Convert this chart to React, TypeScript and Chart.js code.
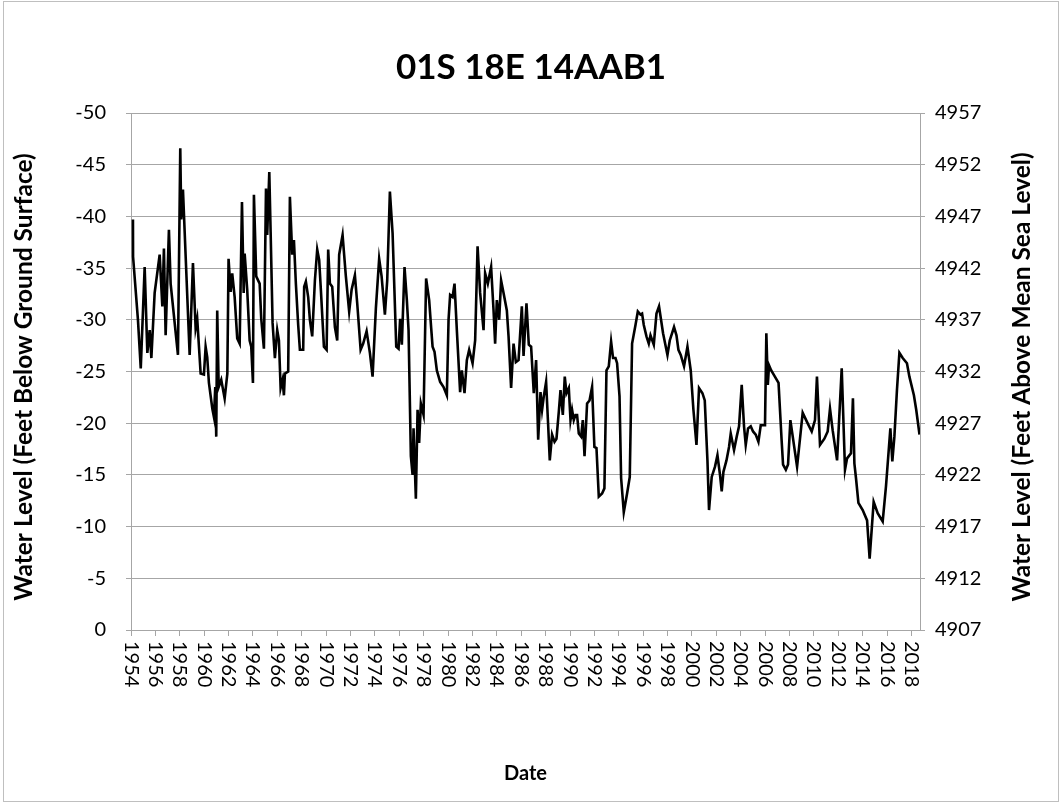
import React, { useEffect, useRef } from "react";
import { Chart, registerables } from "chart.js";

Chart.register(...registerables);

// Sample dates (decimal years)
const sampleDates = [
  1954.16, 1954.17, 1954.57, 1954.8, 1955.12, 1955.34, 1955.53, 1955.67, 1955.94, 1956.35,
  1956.57, 1956.7, 1956.84, 1957.11, 1957.25, 1957.85, 1958.04, 1958.12, 1958.26, 1958.81,
  1959.08, 1959.3, 1959.43, 1959.71, 1959.98, 1960.12, 1960.25, 1960.39, 1960.67, 1960.8,
  1960.91, 1960.99, 1961.07, 1961.19, 1961.4, 1961.68, 1961.9, 1962.0, 1962.17, 1962.3,
  1962.5, 1962.71, 1962.91, 1963.1, 1963.24, 1963.32, 1963.53, 1963.73, 1963.86, 1964.0,
  1964.08, 1964.27, 1964.55, 1964.68, 1964.9, 1965.07, 1965.17, 1965.34, 1965.45, 1965.61,
  1965.8, 1965.99, 1966.13, 1966.27, 1966.43, 1966.54, 1966.62, 1966.89, 1967.03, 1967.22,
  1967.36, 1967.52, 1967.71, 1967.85, 1968.12, 1968.2, 1968.34, 1968.53, 1968.67, 1968.86,
  1969.08, 1969.27, 1969.43, 1969.57, 1969.82, 1970.04, 1970.17, 1970.31, 1970.5, 1970.72,
  1970.91, 1971.07, 1971.35, 1971.62, 1971.89, 1972.09, 1972.36, 1972.55, 1972.83, 1973.04,
  1973.32, 1973.59, 1973.81, 1974.08, 1974.35, 1974.55, 1974.82, 1975.01, 1975.23, 1975.45,
  1975.75, 1975.94, 1976.07, 1976.21, 1976.43, 1976.62, 1976.76, 1976.95, 1977.09, 1977.17,
  1977.3, 1977.36, 1977.5, 1977.63, 1977.77, 1977.99, 1978.2, 1978.45, 1978.61, 1978.73,
  1978.89, 1979.08, 1979.35, 1979.63, 1979.9, 1980.04, 1980.17, 1980.37, 1980.53, 1980.72,
  1980.99, 1981.13, 1981.35, 1981.54, 1981.73, 1982.01, 1982.22, 1982.42, 1982.63, 1982.91,
  1983.04, 1983.26, 1983.53, 1983.73, 1983.86, 1984.0, 1984.19, 1984.35, 1984.55, 1984.82,
  1984.96, 1985.17, 1985.37, 1985.56, 1985.78, 1986.05, 1986.19, 1986.43, 1986.62, 1986.81,
  1987.03, 1987.22, 1987.39, 1987.58, 1987.71, 1987.85, 1988.04, 1988.2, 1988.34, 1988.53,
  1988.73, 1988.89, 1989.08, 1989.22, 1989.41, 1989.57, 1989.71, 1989.9, 1990.04, 1990.17,
  1990.31, 1990.45, 1990.58, 1990.72, 1990.91, 1991.05, 1991.19, 1991.4, 1991.6, 1991.81,
  1992.0, 1992.17, 1992.36, 1992.63, 1992.82, 1992.99, 1993.18, 1993.37, 1993.53, 1993.73,
  1993.86, 1994.06, 1994.19, 1994.41, 1994.68, 1994.9, 1995.09, 1995.37, 1995.56, 1995.78,
  1995.91, 1996.05, 1996.27, 1996.46, 1996.6, 1996.87, 1997.09, 1997.3, 1997.63, 1997.99,
  1998.18, 1998.53, 1998.73, 1998.89, 1999.08, 1999.35, 1999.63, 1999.9, 2000.12, 2000.37,
  2000.58, 2000.86, 2001.05, 2001.27, 2001.4, 2001.62, 2001.89, 2002.09, 2002.3, 2002.44,
  2002.58, 2002.83, 2003.04, 2003.18, 2003.45, 2003.67, 2003.86, 2004.08, 2004.27, 2004.41,
  2004.6, 2004.82, 2005.01, 2005.23, 2005.45, 2005.64, 2005.99, 2006.1, 2006.22, 2006.32,
  2006.5, 2006.8, 2007.1, 2007.35, 2007.47, 2007.7, 2007.88, 2008.07, 2008.62, 2009.08,
  2009.44, 2009.82, 2010.09, 2010.25, 2010.5, 2010.86, 2011.13, 2011.32, 2011.54, 2011.9,
  2012.28, 2012.55, 2012.72, 2013.04, 2013.2, 2013.32, 2013.45, 2013.65, 2014.0, 2014.36,
  2014.57, 2014.9, 2015.23, 2015.64, 2015.91, 2016.27, 2016.43, 2016.6, 2016.81, 2017.01,
  2017.28, 2017.63, 2017.83, 2018.2, 2018.39, 2018.66,
];

// Water level, feet below ground surface (negative = below)
const depthBelowSurface = [
  -39.7, -36.1, -30.0, -25.3, -35.1, -26.8, -29.0, -26.3, -32.6, -36.3,
  -31.3, -36.9, -28.5, -38.7, -33.5, -26.6, -46.6, -39.7, -42.6, -26.6,
  -35.5, -29.2, -30.1, -24.8, -24.7, -27.4, -26.4, -23.9, -21.4, -20.6,
  -23.5, -18.7, -30.9, -23.5, -24.2, -22.4, -24.8, -35.9, -32.7, -34.5,
  -32.2, -28.2, -27.7, -41.4, -32.6, -36.4, -32.9, -28.0, -27.4, -23.9,
  -42.1, -34.2, -33.5, -30.1, -27.2, -42.7, -38.2, -44.3, -38.5, -29.7,
  -26.3, -29.0, -28.0, -23.4, -24.2, -22.7, -24.8, -25.0, -41.9, -36.3,
  -37.7, -33.5, -29.5, -27.1, -27.1, -33.2, -33.7, -32.2, -30.0, -28.4,
  -33.8, -36.8, -35.8, -32.9, -27.4, -27.1, -36.8, -33.5, -33.2, -29.3,
  -28.0, -36.3, -38.2, -34.2, -30.8, -32.9, -34.3, -31.6, -27.1, -27.7,
  -28.9, -26.8, -24.5, -31.1, -35.9, -34.2, -30.5, -33.8, -42.4, -38.4,
  -27.4, -27.2, -30.1, -27.6, -35.1, -31.9, -29.0, -16.8, -15.0, -19.5,
  -14.8, -12.7, -21.3, -18.1, -21.9, -20.8, -34.0, -31.9, -29.3, -27.4,
  -26.9, -25.1, -24.0, -23.5, -22.7, -30.0, -32.4, -32.2, -33.5, -29.0,
  -23.0, -25.1, -22.9, -26.1, -27.1, -25.8, -28.0, -37.1, -32.6, -29.0,
  -34.5, -33.5, -35.1, -30.9, -27.7, -31.9, -30.0, -33.8, -32.6, -30.9,
  -28.4, -23.4, -27.7, -25.9, -26.1, -31.3, -26.5, -31.6, -27.6, -27.4,
  -22.9, -26.1, -18.4, -23.0, -21.3, -22.6, -24.0, -20.0, -16.4, -18.9,
  -18.2, -18.5, -21.1, -23.2, -20.8, -24.5, -22.9, -23.4, -20.3, -21.3,
  -20.3, -20.8, -20.8, -19.0, -18.7, -20.3, -16.8, -21.9, -22.2, -23.5,
  -17.7, -17.6, -12.9, -13.2, -13.7, -25.1, -25.5, -27.9, -26.3, -26.3,
  -25.8, -22.6, -14.7, -11.4, -13.2, -14.8, -27.7, -29.5, -30.8, -30.5,
  -30.6, -29.5, -28.4, -27.7, -28.5, -27.6, -30.6, -31.3, -28.7, -26.6,
  -28.0, -29.3, -28.5, -27.1, -26.6, -25.5, -27.4, -25.1, -21.3, -17.9,
  -23.4, -22.9, -22.2, -16.4, -11.6, -14.8, -15.8, -16.9, -15.0, -13.4,
  -15.3, -16.4, -17.7, -19.0, -17.4, -18.7, -19.7, -23.7, -19.7, -17.9,
  -19.5, -19.7, -19.2, -18.9, -18.2, -19.8, -19.8, -28.7, -23.7, -25.6,
  -25.1, -24.5, -23.9, -18.4, -16.0, -15.5, -16.0, -20.3, -15.8, -21.0,
  -20.1, -19.2, -20.3, -24.5, -17.9, -18.5, -19.2, -21.4, -19.3, -16.4,
  -25.3, -15.5, -16.6, -17.1, -22.4, -16.1, -14.7, -12.3, -11.6, -10.6,
  -6.9, -12.4, -11.3, -10.5, -13.9, -19.5, -16.3, -18.7, -23.2, -26.8,
  -26.3, -25.8, -24.5, -22.7, -21.3, -18.9,
];

const yearTicks = [
  1954, 1956, 1958, 1960, 1962, 1964, 1966, 1968, 1970, 1972, 1974, 1976, 1978,
  1980, 1982, 1984, 1986, 1988, 1990, 1992, 1994, 1996, 1998, 2000, 2002, 2004,
  2006, 2008, 2010, 2012, 2014, 2016, 2018,
];
const depthRange = [-50, 0];
const elevationRange = [4907, 4957];
const tickStep = [5];

const chartTitle = "01S 18E 14AAB1";
const leftAxisTitle = "Water Level (Feet Below Ground Surface)";
const rightAxisTitle = "Water Level (Feet Above Mean Sea Level)";
const xAxisTitle = "Date";

const FONT = "Lato, 'Open Sans', 'DejaVu Sans', sans-serif";
const W = 1062;
const H = 803;
const GRID = "#a6a6a6";

export default function App() {
  const ref = useRef<HTMLCanvasElement | null>(null);

  useEffect(() => {
    const canvas = ref.current;
    if (!canvas) return;
    const points = sampleDates.map((x, i) => ({ x, y: depthBelowSurface[i] }));

    const decor = {
      id: "decor",
      beforeDraw(chart: any) {
        const ctx = chart.ctx;
        ctx.save();
        ctx.fillStyle = "#ffffff";
        ctx.fillRect(0, 0, chart.width, chart.height);
        ctx.restore();
      },
      afterDraw(chart: any) {
        const { ctx, chartArea } = chart;
        const xs = chart.scales.x;
        ctx.save();
        ctx.fillStyle = "#000000";
        ctx.font = `20px ${FONT}`;
        ctx.textAlign = "left";
        ctx.textBaseline = "middle";
        yearTicks.forEach((yr) => {
          const px = xs.getPixelForValue(yr);
          ctx.save();
          ctx.translate(px, chartArea.bottom + 11);
          ctx.rotate(Math.PI / 2);
          ctx.fillText(String(yr), 0, 0);
          ctx.restore();
        });
        ctx.textAlign = "center";
        ctx.font = `bold 35px ${FONT}`;
        ctx.fillText(chartTitle, W / 2, 68);
        ctx.font = `bold 20px ${FONT}`;
        ctx.fillText(xAxisTitle, (chartArea.left + chartArea.right) / 2, 774);
        ctx.font = `bold 24.5px ${FONT}`;
        const cy = 377;
        ctx.save();
        ctx.translate(24, cy);
        ctx.rotate(-Math.PI / 2);
        ctx.fillText(leftAxisTitle, 0, 0);
        ctx.restore();
        ctx.save();
        ctx.translate(1022, cy);
        ctx.rotate(-Math.PI / 2);
        ctx.fillText(rightAxisTitle, 0, 0);
        ctx.restore();
        ctx.strokeStyle = "#bfbfbf";
        ctx.lineWidth = 1;
        ctx.strokeRect(3.5, 1.5, W - 7, H - 3);
        ctx.restore();
      },
    };

    const chart = new Chart(canvas, {
      type: "line",
      data: {
        datasets: [
          {
            data: points,
            borderColor: "#000000",
            borderWidth: 2.6,
            pointRadius: 0,
            tension: 0,
            fill: false,
            xAxisID: "x",
            yAxisID: "y",
          },
        ],
      },
      options: {
        responsive: false,
        animation: false,
        devicePixelRatio: 1,
        layout: { padding: { top: 113, left: 0, right: 0, bottom: 0 } },
        plugins: {
          legend: { display: false },
          tooltip: { enabled: false },
          title: { display: false },
        },
        scales: {
          x: {
            type: "linear",
            min: yearTicks[0],
            max: 2018.7,
            afterBuildTicks: (s: any) => {
              s.ticks = yearTicks.map((v) => ({ value: v }));
            },
            afterFit: (s: any) => {
              s.height = 173;
            },
            ticks: { display: false },
            grid: { drawOnChartArea: false, drawTicks: true, tickLength: 6, color: GRID },
            border: { display: true, color: GRID, width: 1 },
          },
          y: {
            type: "linear",
            position: "left",
            reverse: true,
            min: depthRange[0],
            max: depthRange[1],
            afterFit: (s: any) => {
              s.width = 131;
            },
            ticks: {
              stepSize: tickStep[0],
              color: "#000000",
              padding: 20,
              font: { family: FONT, size: 20 },
              callback: (v: any) => String(v),
            },
            grid: { color: GRID, tickLength: 5, lineWidth: 1 },
            border: { color: GRID, width: 1 },
          },
          y2: {
            type: "linear",
            position: "right",
            min: elevationRange[0],
            max: elevationRange[1],
            afterFit: (s: any) => {
              s.width = W - 920;
            },
            ticks: {
              stepSize: tickStep[0],
              color: "#000000",
              padding: 10,
              font: { family: FONT, size: 20 },
              callback: (v: any) => String(v),
            },
            grid: { drawOnChartArea: false, tickLength: 5, color: GRID },
            border: { color: GRID, width: 1 },
          },
        },
      },
      plugins: [decor],
    });

    return () => {
      chart.destroy();
    };
  }, []);

  return (
    <div style={{ position: "absolute", left: 0, top: 0, width: W, height: H, overflow: "hidden" }}>
      <canvas ref={ref} width={W} height={H} style={{ width: W, height: H, display: "block" }} />
    </div>
  );
}
